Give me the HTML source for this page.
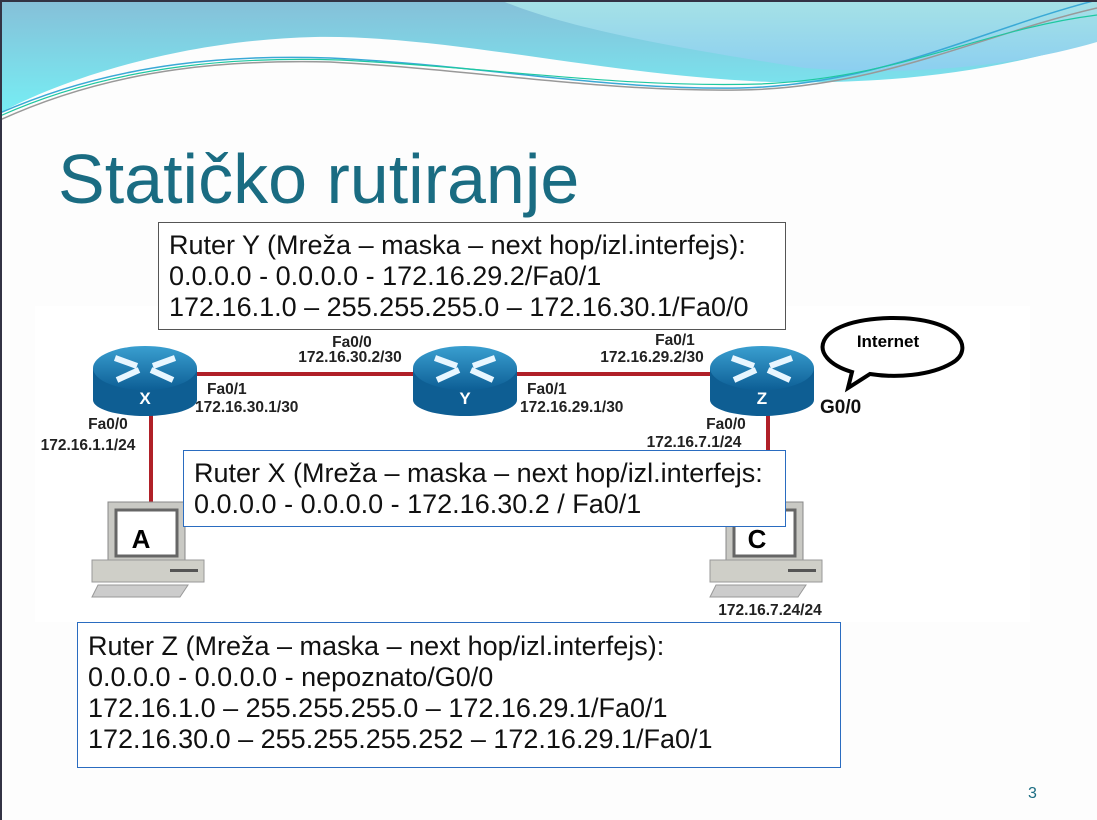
<!DOCTYPE html>
<html><head><meta charset="utf-8"><style>
body{margin:0;width:1097px;height:820px;overflow:hidden;background:#fff;font-family:"Liberation Sans",sans-serif}
.box{position:absolute;background:#fff;font-size:27px;line-height:31px;padding-left:10px;box-sizing:border-box;color:#111;white-space:nowrap}
.lbl{font-family:"Liberation Sans",sans-serif;font-weight:bold;font-size:15.5px;fill:#222}
</style></head><body>
<svg width="1097" height="820" style="position:absolute;left:0;top:0">
<defs>
<linearGradient id="g1" x1="0" y1="0" x2="0" y2="1"><stop offset="0" stop-color="#86bfd8"/><stop offset="1" stop-color="#76eef4"/></linearGradient>
<linearGradient id="g2" x1="0" y1="0" x2="0" y2="1"><stop offset="0" stop-color="#a6e2e6"/><stop offset="1" stop-color="#8ccff0"/></linearGradient>
<linearGradient id="rt" x1="0" y1="0" x2="0" y2="1"><stop offset="0" stop-color="#3a9fd0"/><stop offset="1" stop-color="#0d5f96"/></linearGradient>
<g id="router">
<path d="M-52,-12 L-52,20 A52,16 0 0 0 52,20 L52,-12 Z" fill="#0e5e93"/>
<ellipse cx="0" cy="-12" rx="52" ry="22" fill="url(#rt)"/>
<path d="M-30,-22 L-8,-14 M-28,0 L-6,-10 M30,-22 L8,-14 M28,0 L6,-10" stroke="#e8f6ff" stroke-width="6"/>
</g>
<g id="pc">
<rect x="16" y="0" width="77" height="58" fill="#c9c9c4" stroke="#888"/>
<rect x="24" y="8" width="61" height="46" fill="#fff" stroke="#666" stroke-width="3"/>
<path d="M0,58 L112,58 L112,80 L0,80 Z" fill="#cfcfc8" stroke="#999"/>
<rect x="78" y="67" width="28" height="3" fill="#555"/>
<path d="M6,83 L96,83 L88,95 L0,95 Z" fill="#ccc" stroke="#999"/>
</g>
</defs>
<rect x="0" y="0" width="1097" height="820" fill="#fdfdfd"/>
<path d="M0,0 L1097,0 L1097,40 C1000,70 900,85 770,82 C600,75 450,35 315,37 C180,40 60,80 0,113 Z" fill="url(#g1)"/>
<path d="M500,0 L1097,0 L1097,42 C1000,70 900,75 805,68 C690,50 570,30 500,0 Z" fill="url(#g2)"/>
<path d="M0,113 C120,60 240,55 330,58 C480,65 600,90 740,88 C880,85 980,30 1097,0" fill="none" stroke="#3aa9d6" stroke-width="1.5"/>
<path d="M0,120 C120,65 240,60 330,62 C480,70 600,92 740,90 C880,88 980,35 1097,8" fill="none" stroke="#999" stroke-width="1.5"/>
<path d="M0,116 C120,62 250,57 340,60 C500,68 620,88 760,84 C900,78 980,30 1097,15" fill="none" stroke="#1ec8a0" stroke-width="1.2"/>
<path d="M0,1 H1097 M1,0 V820" stroke="#334" stroke-width="2"/>
<rect x="35" y="306" width="995" height="316" fill="#fff"/>
<text x="58" y="203" font-family="Liberation Sans,sans-serif" font-size="70" fill="#1a6c82">Statičko rutiranje</text>
<text x="1028" y="798" font-family="Liberation Sans,sans-serif" font-size="16" fill="#1a6c82">3</text>
<path d="M197,374 H413 M517,374 H710" stroke="#b02028" stroke-width="4"/>
<path d="M151,410 V502 M768,410 V502" stroke="#b02028" stroke-width="4"/>
<use href="#router" x="145" y="380"/>
<use href="#router" x="465" y="380"/>
<use href="#router" x="762" y="380"/>
<text x="145" y="404" text-anchor="middle" fill="#fff" font-weight="bold" font-size="17" font-family="Liberation Sans,sans-serif">X</text>
<text x="465" y="404" text-anchor="middle" fill="#fff" font-weight="bold" font-size="17" font-family="Liberation Sans,sans-serif">Y</text>
<text x="762" y="404" text-anchor="middle" fill="#fff" font-weight="bold" font-size="17" font-family="Liberation Sans,sans-serif">Z</text>
<use href="#pc" x="92" y="502"/>
<use href="#pc" x="710" y="502"/>
<text x="141" y="548" text-anchor="middle" font-weight="bold" font-size="26" font-family="Liberation Sans,sans-serif">A</text>
<text x="757" y="548" text-anchor="middle" font-weight="bold" font-size="26" font-family="Liberation Sans,sans-serif">C</text>
<text class="lbl" x="352" y="347" text-anchor="middle">Fa0/0</text>
<text class="lbl" x="350" y="362" text-anchor="middle">172.16.30.2/30</text>
<text class="lbl" x="207" y="394">Fa0/1</text>
<text class="lbl" x="195" y="412">172.16.30.1/30</text>
<text class="lbl" x="108" y="429" text-anchor="middle">Fa0/0</text>
<text class="lbl" x="88" y="450" text-anchor="middle">172.16.1.1/24</text>
<text class="lbl" x="675" y="345" text-anchor="middle">Fa0/1</text>
<text class="lbl" x="652" y="362" text-anchor="middle">172.16.29.2/30</text>
<text class="lbl" x="527" y="394">Fa0/1</text>
<text class="lbl" x="520" y="412">172.16.29.1/30</text>
<text class="lbl" x="726" y="429" text-anchor="middle">Fa0/0</text>
<text class="lbl" x="694" y="447" text-anchor="middle">172.16.7.1/24</text>
<text class="lbl" x="770" y="615" text-anchor="middle">172.16.7.24/24</text>
<text x="820" y="413" font-weight="bold" font-size="19" font-family="Liberation Sans,sans-serif" fill="#111">G0/0</text>
<path d="M848,388 L852,372 C805,358 812,320 890,318 C962,317 975,350 952,363 C930,376 895,378 870,374 Z" fill="#fff" stroke="#000" stroke-width="4"/>
<text x="888" y="347" text-anchor="middle" font-weight="bold" font-size="17" font-family="Liberation Sans,sans-serif">Internet</text>
</svg>
<div class="box" style="left:158px;top:222px;width:628px;height:108px;border:1px solid #555;padding-top:7px">Ruter Y (Mreža – maska – next hop/izl.interfejs):<br>0.0.0.0 - 0.0.0.0 - 172.16.29.2/Fa0/1<br>172.16.1.0 – 255.255.255.0 – 172.16.30.1/Fa0/0</div>
<div class="box" style="left:183px;top:450px;width:603px;height:77px;border:1px solid #2a6cc0;padding-top:7px">Ruter X (Mreža – maska – next hop/izl.interfejs:<br>0.0.0.0 - 0.0.0.0 - 172.16.30.2 / Fa0/1</div>
<div class="box" style="left:77px;top:622px;width:764px;height:146px;border:1px solid #2a6cc0;padding-top:8px">Ruter Z (Mreža – maska – next hop/izl.interfejs):<br>0.0.0.0 - 0.0.0.0 - nepoznato/G0/0<br>172.16.1.0 – 255.255.255.0 – 172.16.29.1/Fa0/1<br>172.16.30.0 – 255.255.255.252 – 172.16.29.1/Fa0/1</div>
</body></html>
